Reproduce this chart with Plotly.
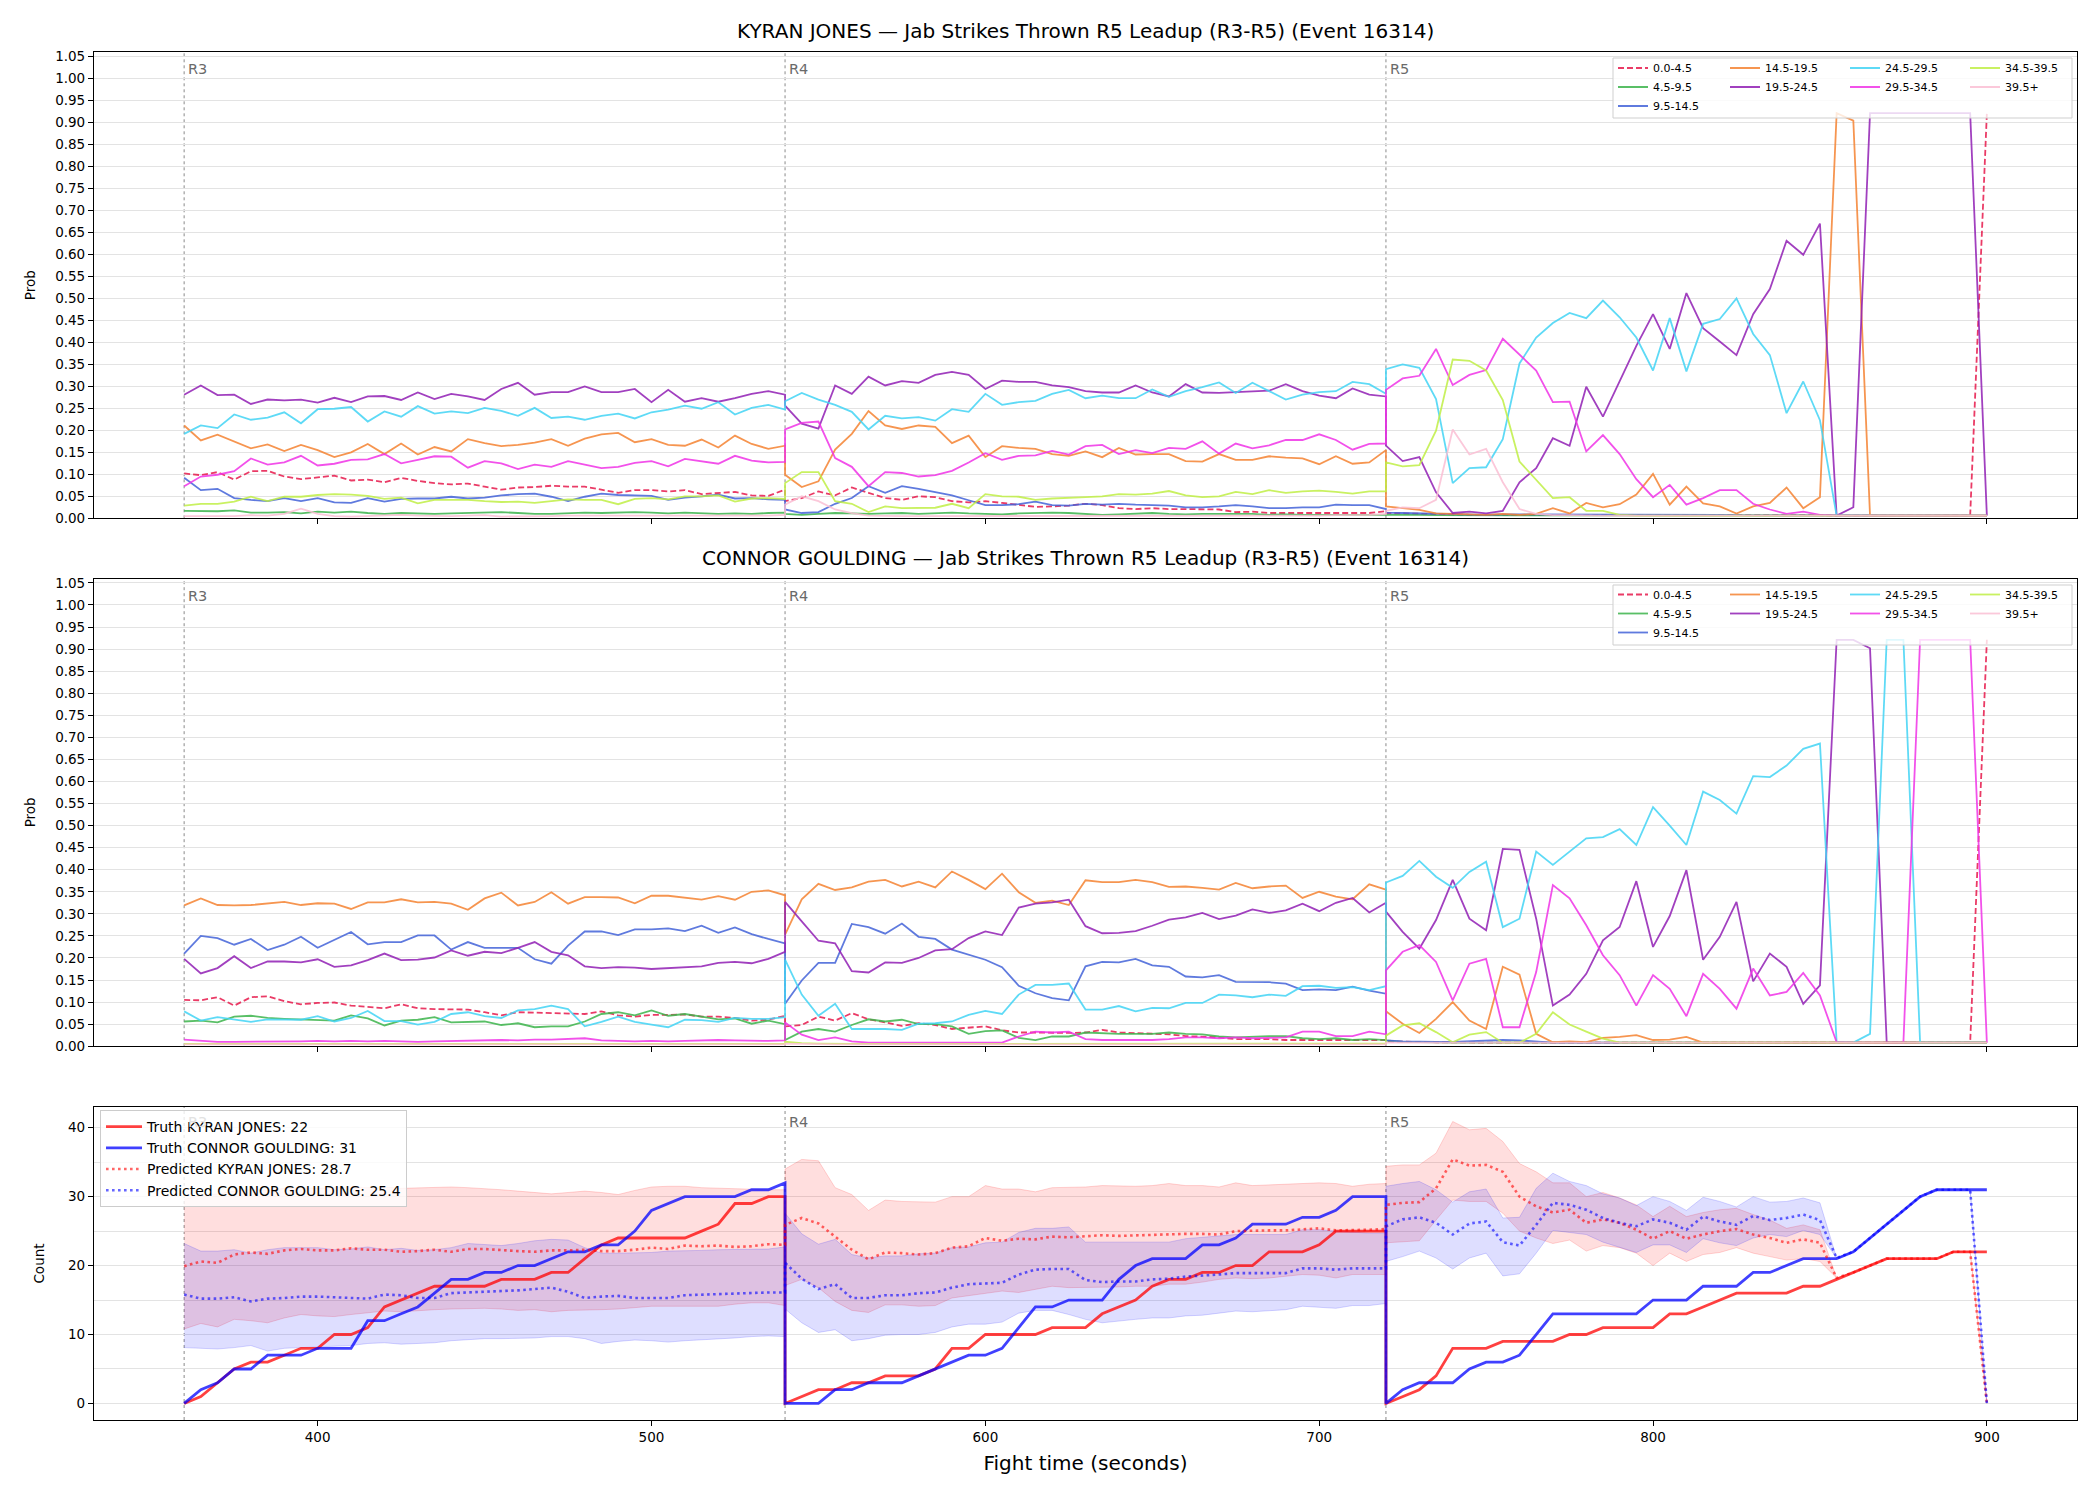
import plotly.graph_objects as go

# ---------------- time axis (R3, R4, R5; 5 s steps, round boundaries repeated) ----------------
T = list(range(360, 541, 5)) + list(range(540, 721, 5)) + list(range(720, 901, 5))
ROUND_STARTS = [360, 540, 720]
ROUND_NAMES = ["R3", "R4", "R5"]

BIN_LABELS = ["0.0-4.5", "4.5-9.5", "9.5-14.5", "14.5-19.5", "19.5-24.5",
              "24.5-29.5", "29.5-34.5", "34.5-39.5", "39.5+"]
BIN_COLORS = ["#e6194b", "#3cb44b", "#4363d8", "#f58231", "#911eb4",
              "#42d4f4", "#f032e6", "#bfef45", "#fabed4"]

# ---------------- KYRAN JONES bin probabilities ----------------
kyran_0_4 = [0.102,0.098,0.105,0.088,0.107,0.108,0.095,0.089,0.093,0.097,0.086,0.088,0.082,0.092,0.085,0.080,0.077,0.079,0.072,0.065,0.070,0.071,0.074,0.072,0.072,0.065,0.058,0.064,0.064,0.061,0.064,0.055,0.058,0.060,0.052,0.051,0.065,
             0.039,0.046,0.061,0.052,0.070,0.058,0.046,0.042,0.050,0.048,0.039,0.036,0.039,0.035,0.031,0.026,0.027,0.029,0.033,0.030,0.023,0.021,0.023,0.021,0.021,0.021,0.020,0.014,0.015,0.012,0.012,0.012,0.012,0.012,0.012,0.012,0.016,
             0.012,0.011,0.010,0.009,0.009,0.008,0.008,0.008,0.009,0.008,0.008,0.008,0.008,0.007,0.008,0.007,0.007,0.007,0.008,0.007,0.007,0.007,0.007,0.007,0.007,0.007,0.007,0.006,0.006,0.006,0.006,0.006,0.006,0.006,0.006,0.006,0.921]
kyran_4_9 = [0.017,0.017,0.016,0.018,0.013,0.013,0.014,0.011,0.015,0.013,0.015,0.012,0.010,0.012,0.011,0.010,0.011,0.012,0.013,0.014,0.012,0.010,0.010,0.011,0.013,0.012,0.013,0.014,0.013,0.011,0.013,0.012,0.010,0.011,0.010,0.012,0.013,
             0.010,0.008,0.010,0.012,0.011,0.010,0.011,0.012,0.010,0.011,0.013,0.011,0.010,0.009,0.011,0.012,0.013,0.012,0.010,0.008,0.009,0.011,0.012,0.010,0.009,0.010,0.010,0.009,0.010,0.008,0.009,0.008,0.008,0.009,0.008,0.008,0.008,
             0.008,0.008,0.008,0.007,0.007,0.007,0.007,0.007,0.007,0.007,0.007,0.007,0.007,0.007,0.007,0.007,0.007,0.007,0.007,0.007,0.007,0.007,0.007,0.007,0.007,0.007,0.007,0.006,0.006,0.006,0.006,0.006,0.006,0.006,0.006,0.006,0.006]
kyran_9_14 = [0.092,0.064,0.067,0.046,0.042,0.039,0.046,0.039,0.046,0.036,0.035,0.046,0.038,0.044,0.045,0.045,0.049,0.045,0.047,0.052,0.055,0.056,0.049,0.039,0.049,0.056,0.053,0.052,0.051,0.042,0.047,0.050,0.054,0.045,0.046,0.043,0.042,
              0.020,0.012,0.014,0.033,0.046,0.073,0.058,0.073,0.067,0.059,0.052,0.041,0.030,0.030,0.032,0.038,0.030,0.029,0.033,0.031,0.033,0.031,0.030,0.029,0.025,0.025,0.027,0.030,0.027,0.023,0.023,0.025,0.025,0.031,0.030,0.030,0.021,
              0.013,0.012,0.011,0.010,0.009,0.009,0.008,0.009,0.009,0.008,0.008,0.008,0.008,0.008,0.008,0.008,0.008,0.008,0.008,0.008,0.008,0.007,0.007,0.007,0.007,0.007,0.007,0.006,0.006,0.006,0.006,0.006,0.006,0.006,0.006,0.006,0.006]
kyran_14_19 = [0.211,0.177,0.190,0.175,0.159,0.168,0.153,0.167,0.155,0.139,0.150,0.169,0.146,0.170,0.145,0.162,0.152,0.180,0.171,0.164,0.167,0.172,0.180,0.165,0.181,0.191,0.194,0.173,0.180,0.167,0.165,0.179,0.161,0.188,0.169,0.158,0.165,
               0.099,0.071,0.084,0.156,0.192,0.244,0.211,0.203,0.211,0.208,0.171,0.188,0.139,0.164,0.160,0.158,0.146,0.142,0.152,0.139,0.160,0.145,0.146,0.146,0.130,0.129,0.146,0.133,0.133,0.141,0.138,0.136,0.123,0.141,0.124,0.127,0.155,
               0.027,0.023,0.019,0.011,0.010,0.010,0.008,0.010,0.008,0.010,0.023,0.011,0.035,0.025,0.032,0.054,0.101,0.031,0.072,0.034,0.027,0.011,0.027,0.035,0.070,0.023,0.048,0.921,0.904,0.006,0.006,0.006,0.006,0.006,0.006,0.006,0.006]
kyran_19_24 = [0.281,0.302,0.280,0.281,0.260,0.270,0.268,0.270,0.263,0.274,0.264,0.277,0.278,0.269,0.286,0.271,0.283,0.277,0.269,0.294,0.308,0.281,0.287,0.287,0.300,0.287,0.287,0.294,0.264,0.292,0.265,0.273,0.265,0.273,0.283,0.289,0.281,
               0.256,0.215,0.204,0.302,0.283,0.322,0.302,0.312,0.308,0.326,0.333,0.326,0.294,0.313,0.310,0.310,0.302,0.298,0.289,0.286,0.286,0.302,0.286,0.277,0.305,0.286,0.285,0.287,0.289,0.290,0.305,0.289,0.279,0.273,0.295,0.281,0.277,
               0.165,0.130,0.139,0.059,0.012,0.015,0.011,0.017,0.082,0.114,0.182,0.165,0.299,0.231,0.313,0.392,0.464,0.385,0.512,0.432,0.402,0.371,0.464,0.521,0.631,0.599,0.670,0.006,0.025,0.921,0.921,0.921,0.921,0.921,0.921,0.921,0.006]
kyran_24_29 = [0.192,0.211,0.205,0.236,0.224,0.229,0.241,0.216,0.248,0.249,0.253,0.220,0.243,0.231,0.255,0.238,0.243,0.239,0.251,0.244,0.233,0.251,0.228,0.231,0.224,0.233,0.238,0.227,0.241,0.247,0.256,0.249,0.264,0.236,0.251,0.258,0.247,
               0.266,0.285,0.270,0.258,0.242,0.202,0.233,0.227,0.230,0.222,0.248,0.242,0.283,0.258,0.264,0.267,0.283,0.292,0.273,0.279,0.273,0.273,0.293,0.276,0.289,0.298,0.309,0.285,0.308,0.289,0.270,0.281,0.287,0.289,0.310,0.305,0.283,
               0.339,0.350,0.342,0.271,0.080,0.114,0.116,0.180,0.352,0.411,0.444,0.467,0.455,0.495,0.457,0.411,0.336,0.455,0.334,0.442,0.453,0.500,0.419,0.371,0.239,0.311,0.223,0.006,0.006,0.006,0.006,0.006,0.006,0.006,0.006,0.006,0.006]
kyran_29_34 = [0.073,0.095,0.099,0.107,0.136,0.122,0.127,0.142,0.120,0.124,0.133,0.134,0.146,0.125,0.133,0.141,0.140,0.115,0.130,0.125,0.112,0.122,0.117,0.130,0.122,0.114,0.117,0.126,0.130,0.118,0.135,0.129,0.124,0.142,0.131,0.127,0.128,
               0.202,0.217,0.220,0.137,0.117,0.073,0.105,0.103,0.095,0.098,0.108,0.127,0.148,0.133,0.142,0.143,0.153,0.145,0.164,0.167,0.146,0.155,0.148,0.160,0.158,0.175,0.147,0.170,0.159,0.166,0.178,0.178,0.191,0.178,0.156,0.169,0.170,
               0.292,0.318,0.324,0.385,0.303,0.326,0.337,0.408,0.371,0.336,0.264,0.265,0.152,0.189,0.146,0.089,0.048,0.076,0.031,0.046,0.064,0.064,0.033,0.020,0.010,0.015,0.008,0.006,0.006,0.006,0.006,0.006,0.006,0.006,0.006,0.006,0.006]
kyran_34_39 = [0.029,0.033,0.033,0.038,0.049,0.039,0.049,0.049,0.053,0.055,0.054,0.051,0.044,0.047,0.034,0.042,0.042,0.042,0.039,0.037,0.038,0.035,0.039,0.043,0.042,0.042,0.032,0.044,0.046,0.043,0.050,0.050,0.052,0.038,0.045,0.046,0.044,
               0.080,0.105,0.105,0.039,0.033,0.014,0.027,0.023,0.023,0.024,0.033,0.023,0.055,0.050,0.049,0.042,0.045,0.046,0.048,0.050,0.055,0.054,0.056,0.062,0.052,0.048,0.050,0.060,0.055,0.064,0.058,0.061,0.063,0.060,0.056,0.061,0.061,
               0.127,0.118,0.121,0.199,0.361,0.358,0.336,0.269,0.129,0.087,0.046,0.048,0.017,0.017,0.008,0.006,0.006,0.006,0.006,0.006,0.006,0.006,0.006,0.006,0.006,0.006,0.006,0.006,0.006,0.006,0.006,0.006,0.006,0.006,0.006,0.006,0.006]
kyran_39p = [0.005,0.005,0.006,0.005,0.007,0.006,0.010,0.022,0.010,0.005,0.004,0.005,0.006,0.008,0.006,0.005,0.005,0.006,0.007,0.004,0.004,0.005,0.005,0.006,0.006,0.005,0.005,0.006,0.006,0.005,0.005,0.006,0.005,0.005,0.006,0.006,0.008,
             0.031,0.050,0.039,0.020,0.012,0.006,0.005,0.005,0.005,0.005,0.005,0.005,0.005,0.005,0.006,0.006,0.005,0.005,0.006,0.006,0.005,0.005,0.006,0.005,0.005,0.005,0.006,0.006,0.005,0.005,0.006,0.006,0.006,0.007,0.007,0.008,0.010,
             0.017,0.025,0.023,0.042,0.202,0.145,0.158,0.082,0.021,0.010,0.007,0.007,0.006,0.006,0.006,0.006,0.006,0.006,0.006,0.006,0.006,0.006,0.006,0.006,0.006,0.006,0.006,0.006,0.006,0.006,0.006,0.006,0.006,0.006,0.006,0.006,0.006]

# ---------------- CONNOR GOULDING bin probabilities ----------------
connor_0_4 = [0.105,0.104,0.111,0.092,0.111,0.113,0.102,0.095,0.098,0.099,0.092,0.089,0.086,0.095,0.086,0.084,0.084,0.083,0.077,0.070,0.077,0.076,0.075,0.075,0.073,0.079,0.070,0.067,0.071,0.071,0.072,0.067,0.067,0.064,0.058,0.060,0.069,
              0.045,0.048,0.067,0.058,0.075,0.061,0.054,0.046,0.052,0.048,0.039,0.042,0.045,0.036,0.031,0.031,0.030,0.030,0.031,0.037,0.031,0.030,0.028,0.027,0.023,0.022,0.020,0.016,0.016,0.016,0.014,0.014,0.014,0.014,0.014,0.013,0.014,
              0.011,0.010,0.009,0.009,0.009,0.008,0.008,0.008,0.008,0.008,0.008,0.008,0.008,0.008,0.008,0.008,0.008,0.008,0.008,0.008,0.008,0.008,0.008,0.008,0.008,0.008,0.008,0.008,0.008,0.008,0.008,0.008,0.008,0.008,0.008,0.008,0.921]
connor_4_9 = [0.056,0.058,0.054,0.067,0.069,0.064,0.062,0.061,0.060,0.058,0.070,0.063,0.047,0.058,0.060,0.066,0.054,0.055,0.056,0.048,0.052,0.043,0.045,0.045,0.056,0.073,0.077,0.070,0.081,0.069,0.073,0.067,0.061,0.063,0.051,0.058,0.050,
              0.014,0.033,0.039,0.033,0.048,0.061,0.056,0.060,0.050,0.050,0.045,0.028,0.034,0.036,0.019,0.014,0.022,0.022,0.031,0.029,0.028,0.028,0.028,0.031,0.028,0.027,0.022,0.020,0.022,0.023,0.023,0.018,0.016,0.018,0.014,0.016,0.014,
              0.013,0.010,0.009,0.008,0.008,0.008,0.008,0.008,0.008,0.008,0.008,0.008,0.008,0.008,0.008,0.008,0.008,0.008,0.008,0.008,0.008,0.008,0.008,0.008,0.008,0.008,0.008,0.008,0.008,0.008,0.008,0.008,0.008,0.008,0.008,0.008,0.008]
connor_9_14 = [0.210,0.250,0.245,0.230,0.243,0.218,0.230,0.248,0.223,0.241,0.259,0.231,0.236,0.236,0.251,0.251,0.219,0.236,0.223,0.223,0.223,0.197,0.187,0.228,0.260,0.260,0.252,0.265,0.265,0.267,0.261,0.273,0.257,0.269,0.254,0.243,0.233,
               0.096,0.149,0.189,0.189,0.277,0.270,0.255,0.278,0.248,0.243,0.219,0.208,0.196,0.179,0.137,0.120,0.109,0.104,0.181,0.191,0.190,0.198,0.183,0.180,0.158,0.156,0.161,0.146,0.146,0.145,0.142,0.127,0.129,0.127,0.135,0.126,0.119,
               0.013,0.011,0.010,0.010,0.010,0.011,0.012,0.014,0.013,0.010,0.008,0.008,0.008,0.008,0.008,0.008,0.008,0.008,0.008,0.008,0.008,0.008,0.008,0.008,0.008,0.008,0.008,0.008,0.008,0.008,0.008,0.008,0.008,0.008,0.008,0.008,0.008]
connor_14_19 = [0.319,0.335,0.320,0.319,0.320,0.324,0.327,0.320,0.324,0.323,0.311,0.326,0.326,0.333,0.326,0.327,0.323,0.309,0.335,0.348,0.319,0.327,0.349,0.323,0.338,0.338,0.337,0.324,0.341,0.341,0.337,0.332,0.340,0.332,0.350,0.353,0.342,
                0.253,0.333,0.368,0.354,0.360,0.373,0.377,0.362,0.373,0.360,0.396,0.377,0.356,0.391,0.349,0.325,0.330,0.320,0.376,0.372,0.372,0.377,0.372,0.361,0.362,0.359,0.355,0.370,0.358,0.362,0.364,0.336,0.350,0.339,0.333,0.367,0.355,
                0.079,0.051,0.030,0.062,0.100,0.058,0.039,0.180,0.162,0.028,0.009,0.011,0.009,0.019,0.021,0.025,0.014,0.015,0.021,0.008,0.008,0.008,0.008,0.008,0.008,0.008,0.008,0.008,0.008,0.008,0.008,0.008,0.008,0.008,0.008,0.008,0.008]
connor_19_24 = [0.198,0.165,0.177,0.204,0.177,0.192,0.192,0.190,0.197,0.180,0.183,0.195,0.210,0.195,0.196,0.201,0.217,0.205,0.214,0.211,0.223,0.236,0.214,0.206,0.181,0.177,0.179,0.178,0.175,0.177,0.180,0.181,0.189,0.191,0.188,0.198,0.214,
                0.327,0.283,0.239,0.233,0.170,0.167,0.190,0.189,0.200,0.217,0.220,0.245,0.260,0.252,0.314,0.323,0.326,0.332,0.272,0.256,0.257,0.261,0.273,0.287,0.292,0.302,0.288,0.296,0.310,0.302,0.308,0.323,0.306,0.325,0.336,0.303,0.325,
                0.305,0.259,0.221,0.286,0.377,0.289,0.263,0.447,0.445,0.289,0.092,0.117,0.164,0.240,0.270,0.374,0.225,0.295,0.399,0.196,0.248,0.327,0.147,0.210,0.180,0.096,0.138,0.921,0.921,0.902,0.008,0.008,0.008,0.008,0.008,0.008,0.008]
connor_24_29 = [0.079,0.058,0.066,0.061,0.055,0.061,0.060,0.060,0.068,0.056,0.064,0.080,0.057,0.057,0.049,0.055,0.073,0.077,0.068,0.064,0.081,0.084,0.092,0.084,0.045,0.055,0.067,0.055,0.049,0.043,0.060,0.059,0.055,0.064,0.062,0.062,0.066,
                0.196,0.117,0.069,0.096,0.039,0.039,0.039,0.037,0.051,0.052,0.056,0.071,0.080,0.073,0.117,0.139,0.139,0.142,0.083,0.083,0.091,0.079,0.087,0.086,0.098,0.098,0.117,0.115,0.111,0.117,0.114,0.136,0.137,0.132,0.134,0.127,0.136,
                0.371,0.386,0.420,0.384,0.359,0.395,0.418,0.270,0.289,0.441,0.411,0.442,0.471,0.474,0.492,0.456,0.542,0.500,0.456,0.577,0.558,0.527,0.612,0.610,0.636,0.674,0.686,0.009,0.008,0.028,0.921,0.921,0.008,0.008,0.008,0.008,0.008]
connor_29_34 = [0.015,0.013,0.010,0.010,0.010,0.011,0.010,0.011,0.012,0.011,0.012,0.011,0.012,0.011,0.010,0.011,0.012,0.013,0.013,0.014,0.013,0.015,0.015,0.016,0.018,0.013,0.012,0.011,0.012,0.011,0.012,0.013,0.014,0.013,0.012,0.012,0.013,
                0.054,0.026,0.014,0.020,0.011,0.008,0.008,0.008,0.008,0.008,0.008,0.008,0.008,0.008,0.022,0.033,0.031,0.033,0.016,0.014,0.014,0.014,0.014,0.016,0.020,0.020,0.018,0.020,0.018,0.019,0.020,0.033,0.033,0.023,0.023,0.033,0.027,
                0.172,0.214,0.229,0.191,0.104,0.187,0.198,0.043,0.043,0.168,0.365,0.335,0.274,0.206,0.161,0.092,0.161,0.130,0.068,0.164,0.130,0.085,0.176,0.115,0.123,0.166,0.115,0.009,0.008,0.008,0.008,0.008,0.921,0.921,0.921,0.921,0.008]
connor_34_39 = [0.005,0.005,0.005,0.004,0.004,0.005,0.005,0.004,0.004,0.005,0.005,0.004,0.004,0.005,0.005,0.004,0.004,0.005,0.005,0.004,0.004,0.005,0.005,0.004,0.004,0.005,0.005,0.004,0.004,0.005,0.005,0.004,0.004,0.005,0.005,0.004,0.005,
                0.010,0.007,0.006,0.005,0.005,0.005,0.005,0.005,0.005,0.005,0.005,0.005,0.005,0.005,0.005,0.005,0.005,0.005,0.005,0.005,0.005,0.005,0.005,0.005,0.005,0.005,0.005,0.005,0.005,0.005,0.005,0.005,0.005,0.005,0.005,0.005,0.006,
                0.024,0.047,0.052,0.032,0.009,0.026,0.032,0.008,0.008,0.028,0.077,0.049,0.033,0.017,0.008,0.008,0.008,0.008,0.008,0.008,0.008,0.008,0.008,0.008,0.008,0.008,0.008,0.008,0.008,0.008,0.008,0.008,0.008,0.008,0.008,0.008,0.008]
connor_39p = [0.004,0.004,0.004,0.004,0.004,0.004,0.004,0.004,0.004,0.004,0.004,0.004,0.004,0.004,0.004,0.004,0.004,0.004,0.004,0.004,0.004,0.004,0.004,0.004,0.004,0.004,0.004,0.004,0.004,0.004,0.004,0.004,0.004,0.004,0.004,0.004,0.004,
              0.006,0.005,0.004,0.004,0.004,0.004,0.004,0.004,0.004,0.004,0.004,0.004,0.004,0.004,0.004,0.004,0.004,0.004,0.004,0.004,0.004,0.004,0.004,0.004,0.004,0.004,0.004,0.004,0.004,0.004,0.004,0.004,0.004,0.004,0.004,0.004,0.004,
              0.008,0.008,0.008,0.008,0.008,0.008,0.008,0.008,0.008,0.008,0.008,0.008,0.008,0.008,0.008,0.008,0.008,0.008,0.008,0.008,0.008,0.008,0.008,0.008,0.008,0.008,0.008,0.008,0.008,0.008,0.008,0.008,0.008,0.008,0.008,0.008,0.008]

# ---------------- cumulative counts ----------------
truth_kyran = [0,1,3,5,6,6,7,8,8,10,10,11,14,15,16,17,17,17,17,18,18,18,19,19,21,23,24,24,24,24,24,25,26,29,29,30,30,
               0,1,2,2,3,3,4,4,4,5,8,8,10,10,10,10,11,11,11,13,14,15,17,18,18,19,19,20,20,22,22,22,23,25,25,25,25,
               0,1,2,4,8,8,8,9,9,9,9,10,10,11,11,11,11,13,13,14,15,16,16,16,16,17,17,18,19,20,21,21,21,21,22,22,22]
truth_connor = [0,2,3,5,5,7,7,7,8,8,8,12,12,13,14,16,18,18,19,19,20,20,21,22,22,23,23,25,28,29,30,30,30,30,31,31,32,
                0,0,0,2,2,3,3,3,4,5,6,7,7,8,11,14,14,15,15,15,18,20,21,21,21,23,23,24,26,26,26,27,27,28,30,30,30,
                0,2,3,3,3,5,6,6,7,10,13,13,13,13,13,13,15,15,15,17,17,17,19,19,20,21,21,21,22,24,26,28,30,31,31,31,31]
pred_kyran = [19.9,20.6,20.4,21.6,21.9,21.7,22.2,22.4,22.2,22.2,22.5,22.3,22.3,22.0,22.1,22.3,22.0,22.4,22.4,22.2,22.1,22.0,22.2,22.2,22.3,22.1,22.1,22.3,22.6,22.4,22.9,22.8,22.9,22.7,22.8,23.1,23.0,
              25.9,26.9,26.1,24.2,22.3,20.9,21.9,21.8,21.6,21.8,22.6,22.8,24.0,23.6,23.9,23.8,24.2,24.1,24.2,24.4,24.3,24.4,24.5,24.6,24.6,24.6,24.5,25.0,25.1,25.1,25.1,25.2,25.4,25.1,25.1,25.2,25.3,
              28.8,29.1,29.2,31.2,35.4,34.5,34.6,33.6,30.0,28.6,27.7,28.1,26.2,26.7,26.2,25.2,23.9,25.0,23.9,24.5,25.0,25.3,24.5,24.0,23.3,23.8,23.3,18.2,19,20,21,21,21,21,22,22,0]
pred_connor = [15.8,15.2,15.2,15.4,14.8,15.2,15.3,15.5,15.5,15.4,15.2,15.2,15.8,15.7,15.3,15.3,16.0,16.1,16.1,16.3,16.4,16.6,16.8,16.2,15.3,15.5,15.6,15.3,15.3,15.3,15.7,15.8,15.8,16.0,16.0,16.1,16.1,
               20.4,18.1,16.6,17.3,15.3,15.3,15.7,15.7,16.0,16.1,16.8,17.3,17.4,17.5,18.7,19.4,19.5,19.5,17.9,17.6,17.7,17.7,18.0,18.1,18.4,18.5,18.7,18.9,18.9,18.8,18.9,19.6,19.6,19.4,19.6,19.6,19.6,
               25.7,26.7,27.0,26.2,24.5,26.1,26.4,23.4,22.9,25.9,29.1,28.8,28.1,26.9,26.2,25.7,26.7,26.2,25.2,27.1,26.4,25.9,27.2,26.6,26.9,27.4,26.6,21.1,22,24,26,28,30,31,31,31,0]
kyran_band_low = [10.8,11.6,11.1,12.2,12.0,11.7,12.4,12.9,12.7,12.6,12.9,13.2,13.4,13.3,13.5,13.6,13.7,13.8,13.8,13.7,13.5,13.6,13.3,13.5,13.5,13.6,13.7,13.9,14.1,14.1,14.1,14.2,14.1,14.4,14.6,14.6,14.2,
                  17.1,18.0,16.8,14.8,13.5,13.2,14.3,14.3,14.1,14.2,15.3,15.6,16.0,16.3,16.1,16.5,17.0,16.8,16.8,16.9,16.9,17.0,17.0,17.3,17.3,17.6,18.0,18.2,18.1,18.2,18.5,18.7,18.6,18.2,18.7,18.7,18.7,
                  23.3,23.5,23.6,26.6,29.5,29.3,29.3,27.6,25.0,24.0,23.2,23.7,22.1,22.9,22.6,21.8,20.0,21.8,20.6,21.6,21.9,22.6,21.8,21.3,20.8,21.0,20.6,18.2,19,20,21,21,21,21,22,22,0]
kyran_band_high = [29.6,30.2,30.4,30.8,31.0,30.9,31.2,31.3,31.2,31.3,31.4,31.3,31.4,31.2,31.3,31.4,31.4,31.3,31.2,31.0,30.8,30.6,30.4,30.6,30.8,30.6,30.3,30.9,31.4,31.5,31.5,31.3,31.2,31.1,31.1,31.0,31.0,
                   34.0,35.4,35.2,31.3,30.3,28.0,29.5,29.3,29.2,29.2,30.0,30.0,31.6,31.1,31.1,30.7,31.3,31.3,31.4,31.6,31.5,31.5,31.6,31.9,31.6,31.6,31.4,32.0,31.6,31.7,31.7,31.9,32.0,31.9,31.5,31.8,31.9,
                   34.4,34.6,34.6,36.3,40.9,39.7,39.9,38.0,34.8,33.6,32.0,32.0,30.0,30.6,29.8,28.8,27.1,28.6,27.1,27.7,28.1,28.3,27.4,26.6,25.4,25.9,25.2,18.2,19,20,21,21,21,21,22,22,0]
connor_band_low = [8.1,8.0,7.9,8.1,8.4,7.6,8.0,8.1,8.2,8.3,8.4,8.7,8.8,8.6,8.7,8.8,9.1,9.3,9.4,9.4,9.4,9.5,9.7,9.7,9.4,8.7,9.0,9.2,9.1,8.9,9.1,9.2,9.4,9.5,9.7,9.8,9.7,
                   13.7,11.7,10.3,10.7,9.1,9.4,9.9,10.0,10.0,10.3,11.1,11.5,11.5,11.8,13.1,13.5,13.5,12.9,12.2,11.7,12.0,12.2,12.4,12.4,12.7,12.8,13.1,13.4,13.3,13.5,13.6,14.1,14.0,13.8,14.2,14.2,14.5,
                   20.6,21.3,22.1,21.1,19.5,21.1,21.8,18.5,18.8,21.8,25.1,24.8,24.5,23.4,22.7,21.9,23.0,23.0,21.9,23.9,23.3,22.9,24.0,24.5,24.2,25.1,24.5,21.1,22,24,26,28,30,31,31,31,0]
connor_band_high = [23.2,22.1,22.1,22.3,21.8,22.3,22.6,22.6,22.6,22.3,22.4,22.7,22.3,22.5,22.2,22.3,22.6,23.2,23.0,22.9,23.2,23.6,23.8,23.7,22.6,21.8,21.8,21.8,21.9,22.1,22.1,22.2,22.3,22.3,22.4,22.4,22.7,
                    27.6,24.6,23.1,23.8,21.6,21.1,21.4,21.4,21.7,21.8,22.6,22.7,23.3,23.4,24.8,25.4,25.4,25.6,23.4,23.4,23.4,23.4,23.4,23.4,23.9,24.1,24.3,24.5,24.5,24.5,24.5,25.2,25.2,25.0,24.8,24.7,24.7,
                    31.5,31.9,32.2,31.0,29.2,30.7,31.1,26.9,27.0,31.2,33.4,32.2,31.6,30.4,29.8,28.7,30.0,29.3,28.0,29.9,29.3,28.5,30.0,29.2,29.3,29.8,29.1,21.1,22,24,26,28,30,31,31,31,0]

KYRAN_SERIES = [kyran_0_4, kyran_4_9, kyran_9_14, kyran_14_19, kyran_19_24,
                kyran_24_29, kyran_29_34, kyran_34_39, kyran_39p]
CONNOR_SERIES = [connor_0_4, connor_4_9, connor_9_14, connor_14_19, connor_19_24,
                 connor_24_29, connor_29_34, connor_34_39, connor_39p]
for s in KYRAN_SERIES + CONNOR_SERIES + [truth_kyran, truth_connor, pred_kyran, pred_connor,
                                         kyran_band_low, kyran_band_high, connor_band_low, connor_band_high]:
    assert len(s) == len(T), len(s)

# ---------------- layout geometry (pixels of a 2100x1500 page) ----------------
W, H = 2100, 1500
ML, MR, MT, MB = 94, 23, 52, 80
PW, PH = W - ML - MR, H - MT - MB


def pxx(px):
    return (px - ML) / PW


def pyy(py):
    return (H - MB - py) / PH


FONT = "DejaVu Sans"


def rgba(hexc, a):
    h = hexc.lstrip("#")
    return "rgba(%d,%d,%d,%.2f)" % (int(h[0:2], 16), int(h[2:4], 16), int(h[4:6], 16), a)


fig = go.Figure()

COL_OF_BIN = [0, 0, 0, 1, 1, 2, 2, 3, 3]
panels = [("x", "y", KYRAN_SERIES, ["legend", "legend2", "legend3", "legend4"]),
          ("x2", "y2", CONNOR_SERIES, ["legend5", "legend6", "legend7", "legend8"])]
for xa, ya, series, legs in panels:
    for i, vals in enumerate(series):
        fig.add_trace(go.Scatter(
            x=T, y=vals, mode="lines", name=BIN_LABELS[i],
            line=dict(color=rgba(BIN_COLORS[i], 0.85), width=1.8,
                      dash="6px,3px" if i == 0 else "solid"),
            xaxis=xa, yaxis=ya, legend=legs[COL_OF_BIN[i]], showlegend=True,
            hoverinfo="skip"))

# bands
for lo, hi, col in [(kyran_band_low, kyran_band_high, (255, 0, 0)),
                    (connor_band_low, connor_band_high, (0, 0, 255))]:
    fig.add_trace(go.Scatter(x=T, y=lo, mode="lines", showlegend=False, hoverinfo="skip",
                             line=dict(color="rgba(%d,%d,%d,0.16)" % col, width=1),
                             xaxis="x3", yaxis="y3"))
    fig.add_trace(go.Scatter(x=T, y=hi, mode="lines", showlegend=False, hoverinfo="skip",
                             line=dict(color="rgba(%d,%d,%d,0.16)" % col, width=1),
                             fill="tonexty", fillcolor="rgba(%d,%d,%d,0.13)" % col,
                             xaxis="x3", yaxis="y3"))

fig.add_trace(go.Scatter(x=T, y=truth_kyran, mode="lines", name="Truth KYRAN JONES: 22",
                         line=dict(color="rgba(255,0,0,0.75)", width=2.8),
                         xaxis="x3", yaxis="y3", legend="legend9"))
fig.add_trace(go.Scatter(x=T, y=truth_connor, mode="lines", name="Truth CONNOR GOULDING: 31",
                         line=dict(color="rgba(0,0,255,0.75)", width=2.8),
                         xaxis="x3", yaxis="y3", legend="legend9"))
fig.add_trace(go.Scatter(x=T, y=pred_kyran, mode="lines", name="Predicted KYRAN JONES: 28.7",
                         line=dict(color="rgba(255,0,0,0.6)", width=2.6, dash="2.6px,3.4px"),
                         xaxis="x3", yaxis="y3", legend="legend9"))
fig.add_trace(go.Scatter(x=T, y=pred_connor, mode="lines", name="Predicted CONNOR GOULDING: 25.4",
                         line=dict(color="rgba(0,0,255,0.6)", width=2.6, dash="2.6px,3.4px"),
                         xaxis="x3", yaxis="y3", legend="legend9"))

# ---------------- axes ----------------
GRID = "#e3e3e3"
axis_common = dict(showline=True, linecolor="black", linewidth=1.2, mirror=True,
                   ticks="outside", ticklen=5, tickwidth=1, tickcolor="black",
                   tickfont=dict(family=FONT, size=13.5, color="black"), zeroline=False)
XR = [333, 927]
xcommon = dict(axis_common, range=XR, showgrid=False, tickmode="array",
               tickvals=[400, 500, 600, 700, 800, 900])

top_dom = [pyy(518.3), 1.0]
mid_dom = [pyy(1046.2), pyy(578.5)]
bot_dom = [0.0, pyy(1107)]

prob_y = dict(axis_common, range=[0, 1.06], tickmode="linear", tick0=0, dtick=0.05,
              tickformat=".2f", showgrid=True, gridcolor=GRID, gridwidth=1,
              title=dict(text="Prob", font=dict(family=FONT, size=13.5, color="black"), standoff=16))

fig.update_layout(
    xaxis=dict(xcommon, anchor="y", showticklabels=False),
    xaxis2=dict(xcommon, anchor="y2", showticklabels=False),
    xaxis3=dict(xcommon, anchor="y3", showticklabels=True,
                title=dict(text="Fight time (seconds)", font=dict(family=FONT, size=20, color="black"),
                           standoff=11)),
    yaxis=dict(prob_y, domain=top_dom, anchor="x"),
    yaxis2=dict(prob_y, domain=mid_dom, anchor="x2"),
    yaxis3=dict(axis_common, domain=bot_dom, anchor="x3", range=[-2.4, 43],
                tickmode="linear", tick0=0, dtick=10, showgrid=True, gridcolor=GRID, gridwidth=1,
                minor=dict(dtick=5, tick0=0, showgrid=True, gridcolor=GRID, ticks=""),
                title=dict(text="Count", font=dict(family=FONT, size=13.5, color="black"), standoff=20)),
)

# ---------------- round markers ----------------
shapes = []
annotations = []
for xr, yr in [("x", "y"), ("x2", "y2"), ("x3", "y3")]:
    for t0, nm in zip(ROUND_STARTS, ROUND_NAMES):
        shapes.append(dict(type="line", xref=xr, yref=yr + " domain", x0=t0, x1=t0, y0=0, y1=1,
                           line=dict(color="#8a8a8a", width=1, dash="dot"), layer="below"))
        # the bottom-panel R3 label sits behind the semi-opaque legend box, so it shows faintly
        hidden = (yr == "y3" and nm == "R3")
        annotations.append(dict(text=nm, xref=xr, yref=yr + " domain", x=t0, y=0.985,
                                xanchor="left", yanchor="top", xshift=2, showarrow=False,
                                font=dict(family=FONT, size=14.5,
                                          color="#e2e2e2" if hidden else "#6a6a6a")))

# titles
annotations.append(dict(text="KYRAN JONES \u2014 Jab Strikes Thrown R5 Leadup (R3-R5) (Event 16314)",
                        xref="paper", yref="paper", x=0.5, y=pyy(31), xanchor="center", yanchor="middle",
                        showarrow=False, font=dict(family=FONT, size=20, color="black")))
annotations.append(dict(text="CONNOR GOULDING \u2014 Jab Strikes Thrown R5 Leadup (R3-R5) (Event 16314)",
                        xref="paper", yref="paper", x=0.5, y=pyy(558), xanchor="center", yanchor="middle",
                        showarrow=False, font=dict(family=FONT, size=20, color="black")))

# legend frames (top and middle panels)
for y0, y1 in [(58, 118), (585, 645)]:
    shapes.append(dict(type="rect", xref="paper", yref="paper",
                       x0=pxx(1613), x1=pxx(2072), y0=pyy(y1), y1=pyy(y0),
                       line=dict(color="#cfcfcf", width=1), fillcolor="rgba(255,255,255,0.8)",
                       layer="above"))

fig.update_layout(shapes=shapes, annotations=annotations)

# ---------------- legends ----------------
col_x = [1613, 1725, 1845, 1965]
leg_font = dict(family=FONT, size=11, color="black")
leg_layout = {}
for p, top_px in enumerate([53.5, 580]):
    for c in range(4):
        key = "legend" if (p == 0 and c == 0) else "legend%d" % (p * 4 + c + 1)
        leg_layout[key] = dict(x=pxx(col_x[c]), y=pyy(top_px), xanchor="left", yanchor="top",
                               orientation="v", bgcolor="rgba(0,0,0,0)", borderwidth=0,
                               font=leg_font, itemwidth=30, tracegroupgap=0, traceorder="normal")
leg_layout["legend9"] = dict(x=pxx(100), y=pyy(1110), xanchor="left", yanchor="top",
                             orientation="v", bgcolor="rgba(255,255,255,0.8)",
                             bordercolor="#cccccc", borderwidth=1, traceorder="normal",
                             font=dict(family=FONT, size=14, color="black"), itemwidth=36)

fig.update_layout(
    width=W, height=H,
    margin=dict(l=ML, r=MR, t=MT, b=MB, pad=0),
    paper_bgcolor="white", plot_bgcolor="white",
    font=dict(family=FONT, color="black"),
    hovermode=False,
    **leg_layout,
)

fig.write_html("out.html")
